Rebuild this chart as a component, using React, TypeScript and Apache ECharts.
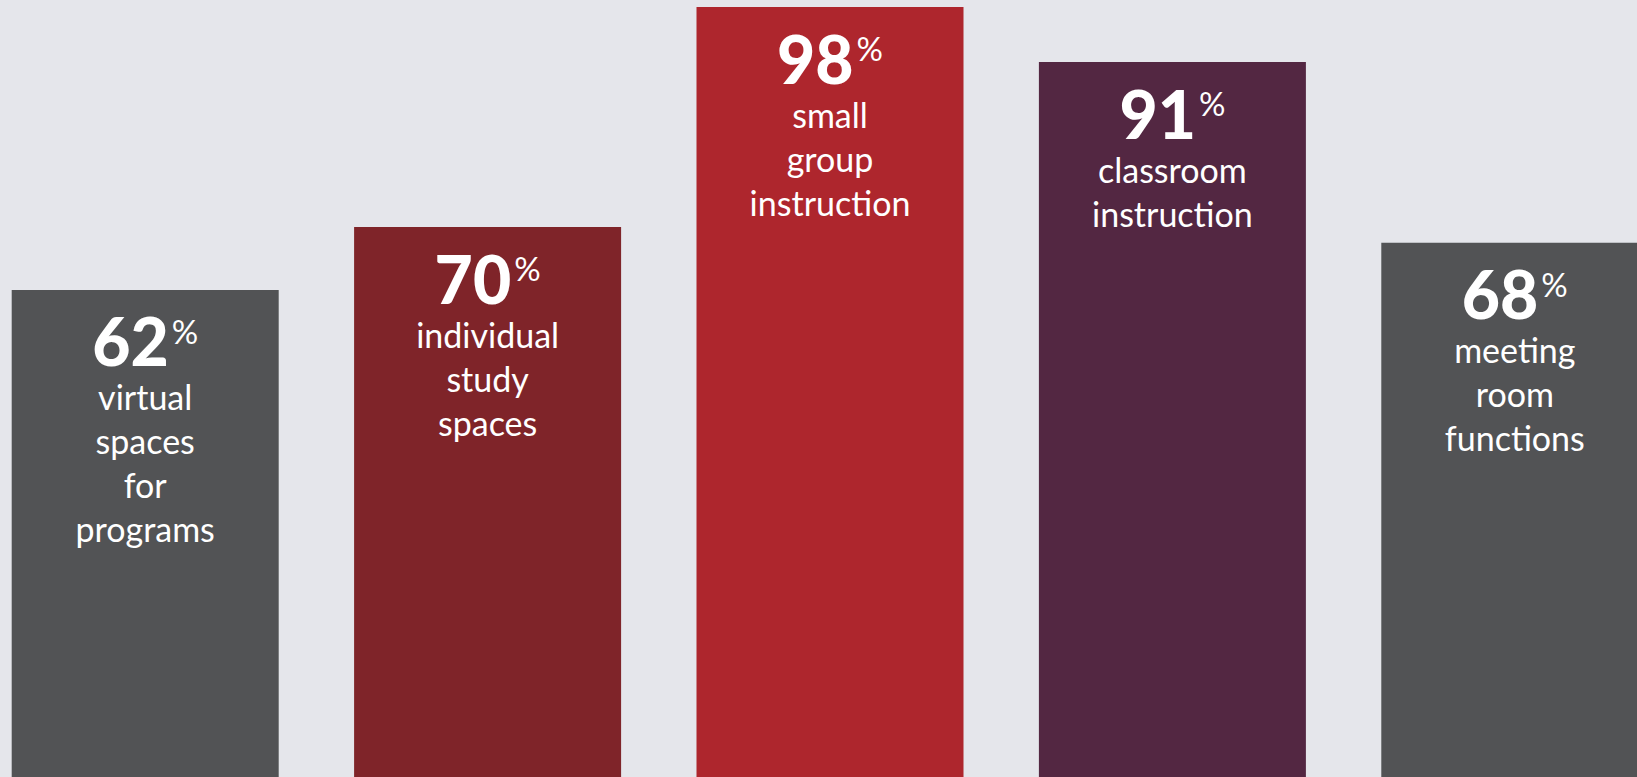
import React, { useEffect, useRef } from "react";
import * as echarts from "echarts";

const categories = [
  "virtual\nspaces\nfor\nprograms",
  "individual\nstudy\nspaces",
  "small\ngroup\ninstruction",
  "classroom\ninstruction",
  "meeting\nroom\nfunctions",
];
const values = [62, 70, 98, 91, 68];
const barColors = ["#525355", "#7f2429", "#ae262d", "#532742", "#525355"];

const FONT = "Lato, 'Open Sans', sans-serif";

export default function App() {
  const ref = useRef<HTMLDivElement>(null);
  useEffect(() => {
    if (!ref.current) return;
    const chart = echarts.init(ref.current, null, { renderer: "svg" });
    chart.setOption({
      animation: false,
      backgroundColor: "#e5e6eb",
      grid: { left: 0, right: 0, top: 0, bottom: 0 },
      xAxis: {
        type: "category",
        data: categories,
        show: false,
      },
      yAxis: {
        type: "value",
        min: 0,
        max: 98.9,
        show: false,
      },
      series: [
        {
          type: "bar",
          barWidth: 267,
          data: values.map((v, i) => ({
            value: v,
            itemStyle: { color: barColors[i] },
          })),
          label: {
            show: true,
            position: "insideTop",
            distance: 17,
            color: "#ffffff",
            fontFamily: FONT,
            formatter: (p: any) =>
              "{num|" + p.value + "}{pct|%}\n{txt|" +
              String(p.name).split("\n").join("}\n{txt|") + "}",
            rich: {
              num: {
                fontFamily: FONT,
                fontWeight: 900,
                fontSize: 66,
                lineHeight: 68,
                color: "#ffffff",
              },
              pct: {
                fontFamily: FONT,
                fontWeight: 400,
                fontSize: 33,
                color: "#ffffff",
                padding: [0, 0, 20, 3],
              },
              txt: {
                fontFamily: FONT,
                fontSize: 34,
                lineHeight: 44,
                color: "#ffffff",
                align: "center",
              },
            },
          },
        },
      ],
    });
    return () => chart.dispose();
  }, []);
  return (
    <div
      style={{
        position: "fixed",
        left: 0,
        top: 0,
        width: 1637,
        height: 777,
        overflow: "hidden",
        background: "#e5e6eb",
      }}
    >
      <div
        ref={ref}
        style={{ position: "absolute", left: -26, top: 0, width: 1712, height: 777 }}
      />
    </div>
  );
}
